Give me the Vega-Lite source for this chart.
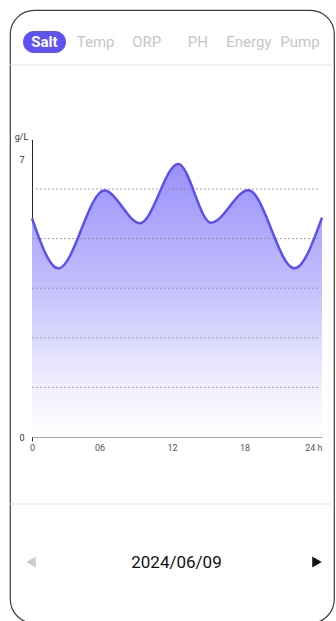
{
  "$schema": "https://vega.github.io/schema/vega-lite/v6.json",
  "width": 324,
  "height": 613,
  "autosize": {"type": "none"},
  "padding": {"left": 10, "top": 10, "right": 2, "bottom": 0},
  "background": "white",
  "config": {
    "view": {"stroke": "#3c3c3c", "strokeWidth": 1.2, "cornerRadius": 24},
    "font": "Roboto"
  },
  "datasets": {
    "salt": [
      {"hour": 0, "value": 5.51},
      {"hour": 2.18, "value": 4.25},
      {"hour": 5.98, "value": 6.21},
      {"hour": 8.94, "value": 5.39},
      {"hour": 12.1, "value": 6.88},
      {"hour": 14.81, "value": 5.40},
      {"hour": 17.9, "value": 6.22},
      {"hour": 21.71, "value": 4.25},
      {"hour": 24, "value": 5.53}
    ],
    "grid": [
      {"level": 1.25}, {"level": 2.5}, {"level": 3.75}, {"level": 5}, {"level": 6.25}
    ],
    "tabs": [
      {"tab": "Salt", "active": true},
      {"tab": "Temp", "active": false},
      {"tab": "ORP", "active": false},
      {"tab": "PH", "active": false},
      {"tab": "Energy", "active": false},
      {"tab": "Pump", "active": false}
    ],
    "sections": [{"divider": "header"}, {"divider": "footer"}],
    "nav": [
      {"dir": "prev", "state": "disabled"},
      {"dir": "next", "state": "enabled"}
    ],
    "day": [{"date": "2024/06/09"}]
  },
  "resolve": {"scale": {"x": "independent", "y": "independent", "color": "independent", "shape": "independent"}},
  "layer": [
    {
      "data": {"name": "sections"},
      "mark": {"type": "rule", "stroke": "#e3e3e3", "strokeWidth": 1.2},
      "encoding": {
        "y": {"field": "divider", "type": "nominal", "scale": {"type": "point", "domain": ["header", "footer"], "range": [55, 494], "padding": 0}, "axis": null}
      }
    },
    {
      "data": {"name": "tabs"},
      "transform": [{"filter": "datum.active"}],
      "mark": {"type": "point", "filled": true, "opacity": 1, "size": 1849, "color": "#5e53f2",
        "shape": "M -0.4884 -0.5116 L 0.4884 -0.5116 A 0.5116 0.5116 0 0 1 0.4884 0.5116 L -0.4884 0.5116 A 0.5116 0.5116 0 0 1 -0.4884 -0.5116 Z"},
      "encoding": {
        "x": {"field": "tab", "type": "nominal", "scale": {"type": "point", "domain": ["Salt", "Temp", "ORP", "PH", "Energy", "Pump"], "range": [34.5, 290], "padding": 0}, "axis": null},
        "y": {"value": 32}
      }
    },
    {
      "data": {"name": "tabs"},
      "transform": [{"filter": "datum.active"}],
      "mark": {"type": "text", "fontSize": 15, "fontWeight": "bold", "color": "white", "baseline": "middle", "align": "center"},
      "encoding": {
        "x": {"field": "tab", "type": "nominal", "scale": {"type": "point", "domain": ["Salt", "Temp", "ORP", "PH", "Energy", "Pump"], "range": [34.5, 290], "padding": 0}, "axis": null},
        "y": {"value": 32},
        "text": {"field": "tab"}
      }
    },
    {
      "data": {"name": "tabs"},
      "transform": [{"filter": "!datum.active"}],
      "mark": {"type": "text", "fontSize": 15, "color": "#c6c6c6", "baseline": "middle", "align": "center"},
      "encoding": {
        "x": {"field": "tab", "type": "nominal", "scale": {"type": "point", "domain": ["Salt", "Temp", "ORP", "PH", "Energy", "Pump"], "range": [34.5, 290], "padding": 0}, "axis": null},
        "y": {"value": 32},
        "text": {"field": "tab"}
      }
    },
    {
      "data": {"name": "salt"},
      "mark": {
        "type": "area",
        "interpolate": "monotone",
        "color": {
          "gradient": "linear", "x1": 0, "y1": 0, "x2": 0, "y2": 1,
          "stops": [
            {"offset": 0, "color": "#9a91fa"},
            {"offset": 0.45, "color": "#c4bffc"},
            {"offset": 0.8, "color": "#efeeff"},
            {"offset": 1, "color": "#ffffff"}
          ]
        }
      },
      "encoding": {
        "x": {"field": "hour", "type": "quantitative", "scale": {"domain": [0, 24], "range": [22, 312], "nice": false, "zero": false}, "axis": null},
        "y": {"field": "value", "type": "quantitative", "scale": {"domain": [0, 7.5], "range": [427, 129.4], "nice": false}, "axis": null}
      }
    },
    {
      "data": {"name": "grid"},
      "mark": {"type": "rule", "stroke": "#8c8c8c", "strokeWidth": 0.8, "strokeDash": [2, 2]},
      "encoding": {
        "x": {"datum": 0, "type": "quantitative", "scale": {"domain": [0, 24], "range": [22, 312], "nice": false, "zero": false}, "axis": null},
        "x2": {"datum": 23.7},
        "y": {"field": "level", "type": "quantitative", "scale": {"domain": [0, 7.5], "range": [427, 129.4], "nice": false}, "axis": null}
      }
    },
    {
      "data": {"name": "salt"},
      "mark": {"type": "line", "interpolate": "monotone", "stroke": "#5b50f2", "strokeWidth": 2.5},
      "encoding": {
        "x": {
          "field": "hour", "type": "quantitative",
          "scale": {"domain": [0, 24], "range": [22, 312], "nice": false, "zero": false},
          "axis": {
            "orient": "bottom", "offset": -186, "values": [0, 6, 12, 18, 24],
            "labelExpr": "datum.value == 24 ? '24 h' : (datum.value == 0 ? '0' : (datum.value < 10 ? '0' + datum.value : '' + datum.value))",
            "labelAlign": {"condition": {"test": "datum.value == 0", "value": "center"}, "value": "right"},
            "labelFontSize": 9, "labelColor": "#555", "labelPadding": 2,
            "labelFlush": false, "labelOverlap": false, "labelBound": false,
            "domainColor": "#a6a6a6", "domainWidth": 1,
            "ticks": true, "tickSize": 4, "tickWidth": 1,
            "tickColor": {"condition": {"test": "datum.value == 0", "value": "#333"}, "value": "transparent"},
            "grid": false, "title": null,
            "encode": {
              "labels": {
                "update": {
                  "dx": {"signal": "datum.value == 6 ? -3 : (datum.value == 18 ? -6 : (datum.value == 24 ? 3 : 0))"}
                }
              }
            }
          }
        },
        "y": {
          "field": "value", "type": "quantitative",
          "scale": {"domain": [0, 7.5], "range": [427, 129.4], "nice": false},
          "axis": {
            "orient": "left", "offset": -22, "values": [0, 7],
            "domainColor": "#222", "domainWidth": 1, "ticks": false,
            "labelPadding": 8, "labelFontSize": 9, "labelColor": "#333",
            "labelFlush": false, "labelOverlap": false, "labelBound": false,
            "grid": false,
            "title": "g/L", "titleAngle": 0, "titleX": -11, "titleY": 126,
            "titleFontSize": 9, "titleFontWeight": "normal", "titleColor": "#333",
            "titleAlign": "center", "titleBaseline": "middle"
          }
        }
      }
    },
    {
      "data": {"name": "nav"},
      "mark": {"type": "point", "filled": true, "opacity": 1, "size": 121},
      "encoding": {
        "x": {"field": "dir", "type": "nominal", "scale": {"type": "point", "domain": ["prev", "next"], "range": [21, 307], "padding": 0}, "axis": null},
        "y": {"value": 552},
        "shape": {"field": "dir", "type": "nominal", "scale": {"domain": ["prev", "next"], "range": ["triangle-left", "triangle-right"]}, "legend": null},
        "color": {"field": "state", "type": "nominal", "scale": {"domain": ["disabled", "enabled"], "range": ["#cccccc", "#111111"]}, "legend": null}
      }
    },
    {
      "data": {"name": "day"},
      "mark": {"type": "text", "fontSize": 17, "color": "#111", "align": "center", "baseline": "middle"},
      "encoding": {
        "x": {"value": 166.5},
        "y": {"value": 553},
        "text": {"field": "date"}
      }
    }
  ]
}
